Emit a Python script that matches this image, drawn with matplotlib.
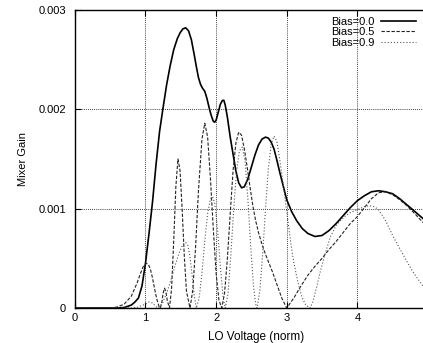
"""Mixer gain vs normalised LO voltage for three bias values."""

import matplotlib

matplotlib.use("Agg")
import matplotlib.pyplot as plt
import numpy as np

# Gain values are in units of 1e-3.
x_b00 = [0.0, 0.6, 0.7, 0.8, 0.85, 0.9, 0.95, 1.0, 1.05, 1.1, 1.15, 1.2, 1.25,
         1.3, 1.35, 1.4, 1.45, 1.49, 1.53, 1.57, 1.61, 1.65, 1.69, 1.72, 1.75,
         1.78, 1.81, 1.84, 1.87, 1.9, 1.93, 1.96, 1.98, 2.0, 2.03, 2.06, 2.09,
         2.11, 2.13, 2.16, 2.2, 2.24, 2.28, 2.32, 2.36, 2.4, 2.45, 2.5, 2.55,
         2.6, 2.65, 2.7, 2.74, 2.78, 2.82, 2.86, 2.9, 2.95, 3.0, 3.07, 3.14,
         3.22, 3.3, 3.4, 3.5, 3.6, 3.7, 3.8, 3.9, 4.0, 4.1, 4.2, 4.3, 4.4,
         4.5, 4.6, 4.7, 4.8, 4.93]
g_b00 = [0.0, 0.0, 0.005, 0.03, 0.06, 0.1, 0.22, 0.45, 0.75, 1.07, 1.45, 1.78,
         2.02, 2.25, 2.44, 2.6, 2.71, 2.77, 2.81, 2.82, 2.79, 2.7, 2.55, 2.43,
         2.32, 2.25, 2.21, 2.18, 2.11, 2.02, 1.94, 1.88, 1.87, 1.89, 1.97,
         2.05, 2.09, 2.09, 2.04, 1.92, 1.72, 1.55, 1.38, 1.26, 1.21, 1.22, 1.3,
         1.42, 1.54, 1.64, 1.7, 1.72, 1.71, 1.67, 1.6, 1.49, 1.37, 1.23, 1.09,
         0.97, 0.88, 0.8, 0.75, 0.72, 0.73, 0.78, 0.85, 0.93, 1.01, 1.08, 1.13,
         1.17, 1.18, 1.17, 1.15, 1.1, 1.04, 0.98, 0.9]

x_b05 = [0.0, 0.5, 0.6, 0.7, 0.8, 0.88, 0.93, 0.97, 1.01, 1.04, 1.07, 1.1,
         1.13, 1.16, 1.19, 1.21, 1.23, 1.25, 1.27, 1.29, 1.31, 1.34, 1.37,
         1.4, 1.43, 1.46, 1.49, 1.52, 1.55, 1.58, 1.63, 1.67, 1.71, 1.75, 1.8,
         1.84, 1.88, 1.92, 1.96, 2.0, 2.04, 2.08, 2.12, 2.16, 2.2, 2.24, 2.28,
         2.32, 2.36, 2.4, 2.44, 2.48, 2.52, 2.56, 2.6, 2.65, 2.7, 2.75, 2.8,
         2.86, 2.93, 3.0, 3.05, 3.1, 3.2, 3.3, 3.4, 3.5, 3.6, 3.7, 3.8, 3.9,
         4.0, 4.1, 4.2, 4.3, 4.4, 4.5, 4.6, 4.7, 4.8, 4.93]
g_b05 = [0.0, 0.0, 0.01, 0.04, 0.12, 0.25, 0.35, 0.42, 0.45, 0.44, 0.39, 0.3,
         0.19, 0.09, 0.02, 0.0, 0.05, 0.15, 0.2, 0.16, 0.07, 0.0, 0.2, 0.68,
         1.22, 1.5, 1.38, 0.98, 0.52, 0.17, 0.0, 0.18, 0.62, 1.18, 1.7, 1.86,
         1.72, 1.3, 0.8, 0.35, 0.08, 0.0, 0.15, 0.5, 0.95, 1.38, 1.66, 1.77,
         1.74, 1.6, 1.42, 1.22, 1.03, 0.88, 0.76, 0.64, 0.54, 0.45, 0.36, 0.24,
         0.1, 0.0, 0.05, 0.1, 0.22, 0.33, 0.42, 0.5, 0.59, 0.67, 0.76, 0.85,
         0.92, 1.01, 1.1, 1.16, 1.17, 1.14, 1.09, 1.03, 0.96, 0.86]

x_b09 = [0.0, 0.8, 0.9, 1.0, 1.05, 1.1, 1.14, 1.18, 1.24, 1.3, 1.36, 1.42,
         1.48, 1.53, 1.57, 1.6, 1.63, 1.66, 1.69, 1.72, 1.76, 1.8, 1.84, 1.88,
         1.92, 1.95, 1.98, 2.02, 2.06, 2.1, 2.13, 2.17, 2.21, 2.25, 2.29,
         2.33, 2.37, 2.41, 2.45, 2.49, 2.53, 2.56, 2.58, 2.62, 2.66, 2.7,
         2.74, 2.78, 2.82, 2.86, 2.9, 2.94, 2.98, 3.02, 3.06, 3.1, 3.14, 3.18,
         3.22, 3.27, 3.33, 3.37, 3.42, 3.48, 3.55, 3.62, 3.7, 3.8, 3.9, 4.0,
         4.1, 4.17, 4.24, 4.3, 4.4, 4.5, 4.6, 4.7, 4.8, 4.93]
g_b09 = [0.0, 0.0, 0.01, 0.04, 0.06, 0.05, 0.02, 0.0, 0.05, 0.15, 0.28, 0.43,
         0.56, 0.64, 0.66, 0.63, 0.52, 0.33, 0.13, 0.0, 0.1, 0.35, 0.68, 0.95,
         1.1, 1.12, 1.06, 0.8, 0.42, 0.1, 0.0, 0.15, 0.55, 1.0, 1.38, 1.58,
         1.62, 1.48, 1.1, 0.62, 0.22, 0.04, 0.0, 0.18, 0.55, 1.0, 1.4, 1.65,
         1.73, 1.68, 1.5, 1.3, 1.08, 0.86, 0.64, 0.46, 0.32, 0.2, 0.1, 0.03,
         0.0, 0.06, 0.2, 0.38, 0.56, 0.72, 0.83, 0.91, 0.96, 0.99, 1.02, 1.03,
         1.02, 0.99, 0.88, 0.73, 0.6, 0.47, 0.35, 0.22]

x_ticks = [0, 1, 2, 3, 4]
y_ticks = [0.0, 0.001, 0.002, 0.003]
y_tick_labels = ["0", "0.001", "0.002", "0.003"]

plt.rcParams["font.family"] = ["Liberation Sans", "DejaVu Sans"]

fig = plt.figure(figsize=(4.23, 3.43), dpi=100)
ax = fig.add_axes([0.177, 0.102, 0.823, 0.869])

ax.plot(x_b00, np.array(g_b00) * 1e-3, color="black", lw=1.2,
        label="Bias=0.0")
ax.plot(x_b05, np.array(g_b05) * 1e-3, color="#222222", lw=0.8,
        dashes=(3, 1.5), label="Bias=0.5")
ax.plot(x_b09, np.array(g_b09) * 1e-3, color="#555555", lw=0.8,
        dashes=(1, 1.8), label="Bias=0.9")

ax.set_xlim(0, 4.93)
ax.set_ylim(0, 0.003)
ax.set_xticks(x_ticks)
ax.set_yticks(y_ticks)
ax.set_yticklabels(y_tick_labels)
ax.tick_params(direction="in", labelsize=8, length=4, top=True)
ax.tick_params(axis="y", pad=6.5)
ax.tick_params(axis="x", pad=3.5)
ax.grid(True, color="black", ls=(0, (1, 1.5)), lw=0.6)

for side in ("left", "bottom", "top"):
    ax.spines[side].set_linewidth(1.0)
ax.spines["right"].set_visible(False)

ax.set_xlabel("LO Voltage (norm)", fontsize=8.5)
ax.xaxis.set_label_coords(0.52, -0.078)
ax.set_ylabel("Mixer Gain", fontsize=8, labelpad=7)

ax.legend(loc="upper right", frameon=False, fontsize=8, markerfirst=False,
          handlelength=3.2, handletextpad=0.6, labelspacing=0.05,
          borderaxespad=0.2)

fig.savefig("out.png", dpi=100)
